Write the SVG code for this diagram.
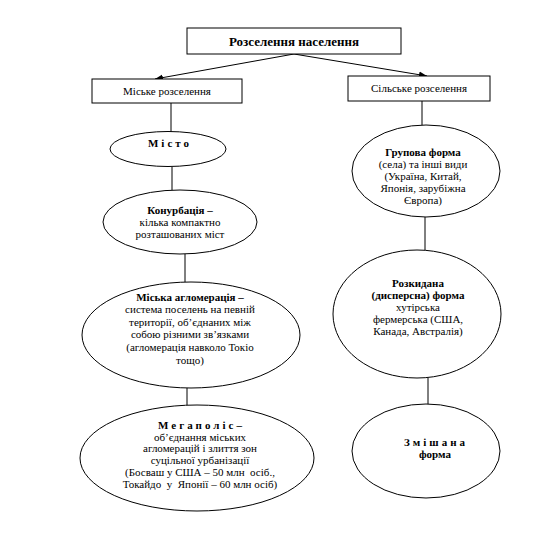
<svg xmlns="http://www.w3.org/2000/svg" width="542" height="535" viewBox="0 0 542 535">
<defs>
<style>
text{font-family:"Liberation Serif","Times New Roman","DejaVu Serif",serif;font-size:11px;fill:#000;text-anchor:middle}
.b{font-weight:bold}
.t{font-size:13px;font-weight:bold}
.sp{font-weight:bold;letter-spacing:3px}
.n{fill:#fff;stroke:#000;stroke-width:1}
line{stroke:#000;stroke-width:1}
</style>
<marker id="ar" viewBox="0 0 10 10" refX="10" refY="5" markerWidth="8" markerHeight="8" orient="auto" markerUnits="userSpaceOnUse">
<path d="M0,1 L10,5 L0,9 z" fill="#000"/>
</marker>
</defs>
<rect width="542" height="535" fill="#fff"/>
<g id="connectors">
<line x1="294" y1="54" x2="155" y2="79" marker-end="url(#ar)"/>
<line x1="294" y1="54" x2="427" y2="76" marker-end="url(#ar)"/>
<line x1="171" y1="103" x2="171" y2="132"/>
<line x1="172" y1="167" x2="172" y2="190"/>
<line x1="185" y1="254" x2="185" y2="282"/>
<line x1="187" y1="388" x2="187" y2="405"/>
<line x1="422" y1="101" x2="422" y2="125"/>
<line x1="425" y1="217" x2="425" y2="250"/>
<line x1="428" y1="378" x2="428" y2="405"/>
</g>
<g id="root">
<rect class="n" x="187" y="28" width="214" height="26"/>
<text x="294" y="46" class="t">Розселення населення</text>
</g>
<g id="urban">
<rect class="n" x="92" y="79" width="150" height="24"/>
<text x="167" y="95">Міське розселення</text>
</g>
<g id="rural">
<rect class="n" x="348" y="76" width="142" height="25"/>
<text x="419" y="92">Сільське розселення</text>
</g>
<g id="misto">
<ellipse class="n" cx="168" cy="149" rx="58" ry="17.5"/>
<text x="170" y="147" class="sp">Місто</text>
</g>
<g id="konurbatsia">
<ellipse class="n" cx="180" cy="222" rx="77" ry="32"/>
<text x="180" y="214" class="b">Конурбація –</text>
<text x="180" y="226">кілька компактно</text>
<text x="180" y="238">розташованих міст</text>
</g>
<g id="agglomeration">
<ellipse class="n" cx="191" cy="335" rx="109" ry="53"/>
<text x="190" y="301" class="b">Міська агломерація –</text>
<text x="190" y="313">система поселень на певній</text>
<text x="190" y="326">території, об’єднаних між</text>
<text x="190" y="338">собою різними зв’язками</text>
<text x="190" y="351">(агломерація навколо Токіо</text>
<text x="190" y="364">тощо)</text>
</g>
<g id="megapolis">
<ellipse class="n" cx="197" cy="458" rx="117" ry="53"/>
<text x="200" y="429" class="b"><tspan style="letter-spacing:3px">Мегаполіс</tspan>–</text>
<text x="200" y="441">об’єднання міських</text>
<text x="200" y="452">агломерацій і злиття зон</text>
<text x="200" y="464">суцільної урбанізації</text>
<text x="200" y="476" xml:space="preserve">(Босваш у США – 50 млн  осіб.,</text>
<text x="200" y="488" xml:space="preserve">Токайдо  у  Японії – 60 млн осіб)</text>
</g>
<g id="grupova">
<ellipse class="n" cx="426" cy="171" rx="74" ry="46"/>
<text x="423" y="156" class="b">Групова форма</text>
<text x="423" y="168">(села) та інші види</text>
<text x="423" y="180">(Україна, Китай,</text>
<text x="423" y="192">Японія, зарубіжна</text>
<text x="423" y="204">Європа)</text>
</g>
<g id="rozkydana">
<ellipse class="n" cx="417" cy="314" rx="84" ry="64"/>
<text x="418" y="287" class="b">Розкидана</text>
<text x="418" y="299" class="b">(дисперсна) форма</text>
<text x="418" y="311">хутірська</text>
<text x="418" y="323">фермерська (США,</text>
<text x="418" y="335">Канада, Австралія)</text>
</g>
<g id="zmishana">
<ellipse class="n" cx="426" cy="451" rx="74" ry="47"/>
<text x="436" y="446" class="sp">Змішана</text>
<text x="435" y="458" class="b">форма</text>
</g>
</svg>
